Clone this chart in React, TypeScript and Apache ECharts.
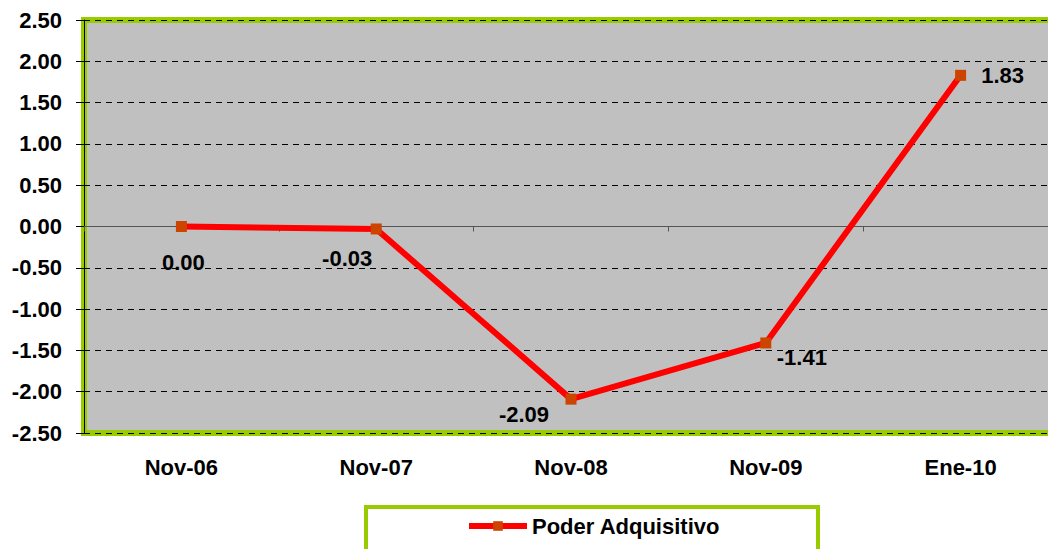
import React, { useEffect, useRef } from "react";
import * as echarts from "echarts";

const categories = ["Nov-06", "Nov-07", "Nov-08", "Nov-09", "Ene-10"];
const values = [0.0, -0.03, -2.09, -1.41, 1.83];
const labelOffsets: [number, number][] = [
  [2, 36],
  [-29, 30],
  [-47, 15],
  [36, 15],
  [42, 0],
];
const seriesName = "Poder Adquisitivo";

const FONT = 'Arial, "Liberation Sans", sans-serif';

export default function App() {
  const ref = useRef<HTMLDivElement>(null);
  useEffect(() => {
    if (!ref.current) return;
    const chart = echarts.init(ref.current, null, { renderer: "svg" });
    chart.setOption({
      animation: false,
      backgroundColor: "#ffffff",
      grid: {
        left: 84,
        top: 20,
        width: 974,
        height: 413,
        show: true,
        backgroundColor: "#C0C0C0",
        borderColor: "#99CC00",
        borderWidth: 6,
        containLabel: false,
      },
      graphic: [
        {
          type: "rect",
          shape: { x: 366, y: 507, width: 452, height: 70 },
          style: { fill: "#ffffff", stroke: "#99CC00", lineWidth: 4 },
          z: -1,
        },
      ],
      legend: {
        data: [seriesName],
        left: 461,
        top: 510,
        padding: 5,
        itemWidth: 58,
        itemHeight: 12,
        itemGap: 5,
        lineStyle: { width: 6, color: "#FF0000" },
        itemStyle: { color: "#CC4400" },
        textStyle: { fontFamily: FONT, fontWeight: "bold", fontSize: 22, color: "#000" },
      },
      xAxis: [
        {
          type: "category",
          data: categories,
          position: "bottom",
          boundaryGap: true,
          axisLine: { show: false, onZero: false },
          axisTick: { show: false },
          axisLabel: {
            margin: 23,
            fontFamily: FONT,
            fontWeight: "bold",
            fontSize: 22,
            color: "#000",
          },
          splitLine: { show: false },
        },
        {
          type: "category",
          data: categories,
          position: "bottom",
          boundaryGap: true,
          axisLine: { show: true, onZero: true, lineStyle: { color: "#555555", width: 1 } },
          axisTick: { show: true, length: 5, inside: false, lineStyle: { color: "#555555" } },
          axisLabel: { show: false },
          splitLine: { show: false },
        },
      ],
      yAxis: {
        type: "value",
        min: -2.5,
        max: 2.5,
        interval: 0.5,
        axisLine: { show: true, lineStyle: { color: "#000", width: 1 } },
        axisTick: { show: true, length: 8, lineStyle: { color: "#000" } },
        axisLabel: {
          margin: 22,
          fontFamily: FONT,
          fontWeight: "bold",
          fontSize: 22,
          color: "#000",
          formatter: (v: number) => v.toFixed(2),
        },
        splitLine: {
          show: true,
          lineStyle: { color: "#000", type: [6, 5], width: 1 },
        },
      },
      series: [
        {
          name: seriesName,
          type: "line",
          xAxisIndex: 0,
          data: values.map((v, i) => ({
            value: v,
            label: { offset: labelOffsets[i] },
          })),
          symbol: "rect",
          symbolSize: 11,
          lineStyle: { color: "#FF0000", width: 6 },
          itemStyle: { color: "#CC4400" },
          label: {
            show: true,
            position: "inside",
            align: "center",
            verticalAlign: "middle",
            fontFamily: FONT,
            fontWeight: "bold",
            fontSize: 22,
            color: "#000",
            formatter: (p: any) => Number(p.value).toFixed(2),
          },
          z: 5,
        },
      ],
    });
    return () => chart.dispose();
  }, []);
  return (
    <div
      style={{
        position: "absolute",
        left: 0,
        top: 0,
        width: 1048,
        height: 549,
        overflow: "hidden",
        background: "#fff",
      }}
    >
      <div ref={ref} style={{ width: 1070, height: 549 }} />
    </div>
  );
}
